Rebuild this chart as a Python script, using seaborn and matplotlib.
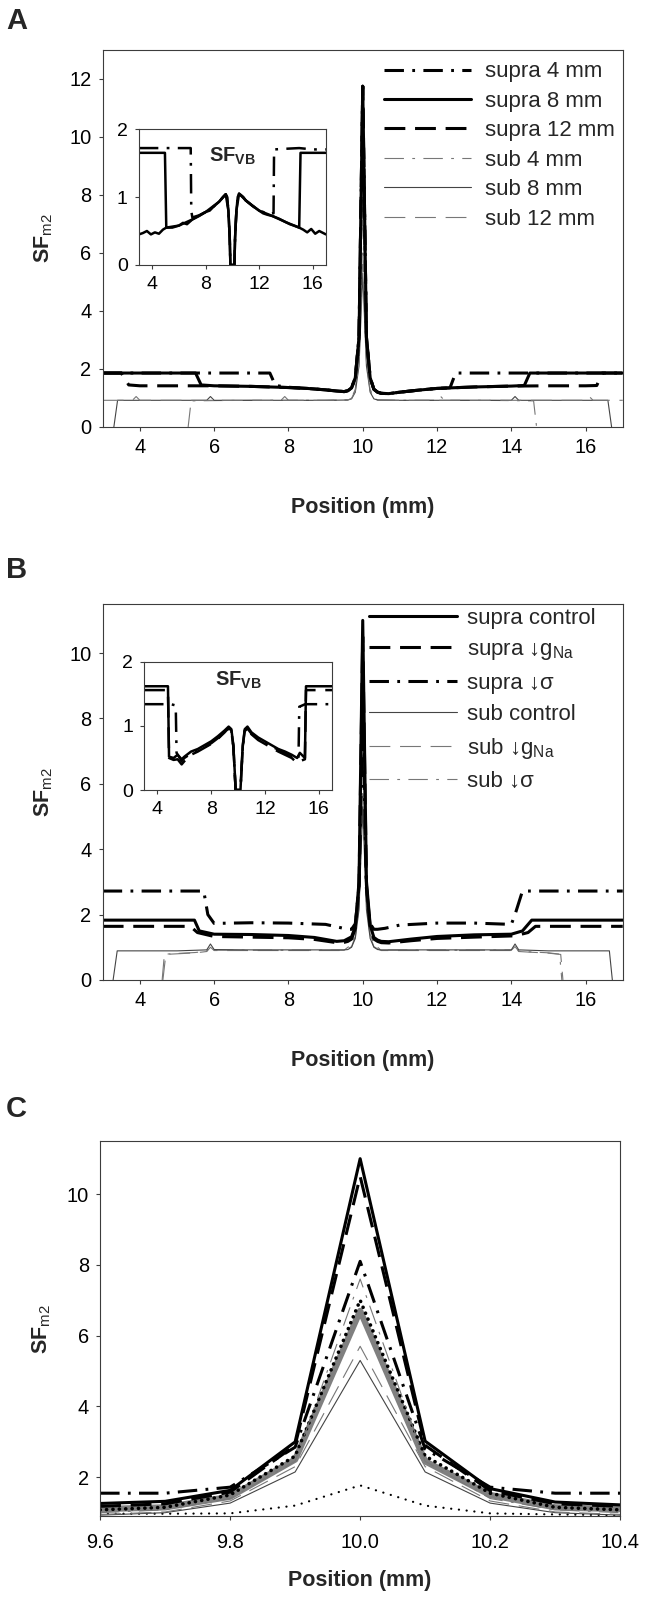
import matplotlib
matplotlib.use("Agg")
import matplotlib.pyplot as plt
import seaborn as sns

sns.set_theme(style="ticks")
plt.rcParams['font.family'] = ['Liberation Sans', 'DejaVu Sans']
plt.rcParams['mathtext.fontset'] = 'custom'
plt.rcParams['mathtext.rm'] = 'Liberation Sans'
plt.rcParams['mathtext.bf'] = 'Liberation Sans:bold'
plt.rcParams['mathtext.it'] = 'Liberation Sans:italic'
plt.rcParams['lines.scale_dashes'] = False

# ---------------- panel A : main (SFm2) ----------------
a_x_supra4 = [3.0, 4.0, 5.0, 6.0, 7.0, 7.5, 7.65, 8.0, 8.5, 9.0, 9.3, 9.5, 9.6, 9.7, 9.8, 9.9, 10.0, 10.1, 10.2,
              10.3, 10.4, 10.5, 10.7, 11.0, 11.5, 12.0, 12.35, 12.5, 13.0, 14.0, 15.0, 16.0, 17.0]
a_y_supra4 = [1.86, 1.86, 1.86, 1.86, 1.86, 1.86, 1.43, 1.37, 1.33, 1.28, 1.24, 1.22, 1.25, 1.35, 1.70, 3.10, 11.75,
              3.10, 1.70, 1.30, 1.20, 1.16, 1.15, 1.20, 1.27, 1.33, 1.35, 1.86, 1.86, 1.86, 1.86, 1.86, 1.86]
a_x_supra8 = [3.0, 4.0, 5.0, 5.5, 5.65, 6.0, 7.0, 8.0, 8.5, 9.0, 9.3, 9.5, 9.6, 9.7, 9.8, 9.9, 10.0, 10.1, 10.2,
              10.3, 10.4, 10.5, 10.7, 11.0, 11.5, 12.0, 13.0, 14.0, 14.35, 14.5, 15.0, 16.0, 17.0]
a_y_supra8 = [1.86, 1.86, 1.86, 1.86, 1.45, 1.42, 1.40, 1.36, 1.33, 1.28, 1.24, 1.22, 1.25, 1.35, 1.70, 3.10, 11.75,
              3.10, 1.70, 1.30, 1.20, 1.16, 1.15, 1.20, 1.27, 1.33, 1.38, 1.41, 1.43, 1.86, 1.86, 1.86, 1.86]
a_x_supra12 = [3.0, 3.5, 3.7, 4.0, 5.0, 6.0, 7.0, 8.0, 8.5, 9.0, 9.3, 9.5, 9.6, 9.7, 9.8, 9.9, 10.0, 10.1, 10.2,
               10.3, 10.4, 10.5, 10.7, 11.0, 11.5, 12.0, 13.0, 14.0, 15.0, 16.0, 16.3, 16.45, 17.0]
a_y_supra12 = [1.86, 1.86, 1.45, 1.42, 1.42, 1.42, 1.40, 1.36, 1.33, 1.28, 1.24, 1.22, 1.25, 1.35, 1.70, 3.10, 11.75,
               3.10, 1.70, 1.30, 1.20, 1.16, 1.15, 1.20, 1.27, 1.33, 1.38, 1.41, 1.42, 1.42, 1.43, 1.86, 1.86]
a_x_sub4 = [5.3, 5.38, 6.0, 7.0, 7.8, 7.9, 8.0, 9.0, 9.6, 9.7, 9.8, 9.9, 10.0, 10.1, 10.2, 10.3, 10.4, 11.0,
            12.0, 12.1, 12.2, 13.0, 14.0, 14.6, 14.68]
a_y_sub4 = [0.0, 0.90, 0.91, 0.92, 0.92, 1.05, 0.92, 0.92, 0.93, 1.00, 1.30, 2.60, 7.7, 2.60, 1.30, 1.00, 0.93, 0.92,
            0.92, 1.05, 0.92, 0.92, 0.91, 0.90, 0.0]
a_x_sub8 = [3.3, 3.4, 4.0, 5.0, 5.8, 5.9, 6.0, 7.0, 8.0, 9.0, 9.6, 9.7, 9.8, 9.9, 10.0, 10.1, 10.2, 10.3, 10.4,
            11.0, 12.0, 13.0, 14.0, 14.1, 14.2, 15.0, 16.0, 16.6, 16.7]
a_y_sub8 = [0.0, 0.92, 0.92, 0.92, 0.92, 1.05, 0.92, 0.92, 0.92, 0.92, 0.93, 0.97, 1.20, 2.10, 5.3, 2.10, 1.20, 0.97,
            0.93, 0.92, 0.92, 0.92, 0.92, 1.05, 0.92, 0.92, 0.92, 0.92, 0.0]
a_x_sub12 = [3.0, 3.8, 3.9, 4.0, 5.0, 6.0, 7.0, 8.0, 9.0, 9.6, 9.7, 9.8, 9.9, 10.0, 10.1, 10.2, 10.3, 10.4, 11.0,
             12.0, 13.0, 14.0, 15.0, 16.0, 16.1, 16.2, 17.0]
a_y_sub12 = [0.92, 0.92, 1.05, 0.92, 0.92, 0.92, 0.92, 0.92, 0.92, 0.93, 0.99, 1.25, 2.30, 6.0, 2.30, 1.25, 0.99,
             0.93, 0.92, 0.92, 0.92, 0.92, 0.92, 0.92, 1.05, 0.92, 0.92]

# ---------------- panel A : inset (SFVB) ----------------
ia_x_4 = [3.0, 4.0, 5.0, 6.0, 6.88, 6.92, 7.0, 7.5, 8.0, 8.3, 8.6, 9.0, 9.3, 9.5, 9.6, 9.7, 9.8, 9.85, 10.15, 10.2,
          10.3, 10.4, 10.5, 10.8, 11.0, 11.5, 12.0, 12.3, 12.6, 13.0, 13.08, 13.12, 14.0, 15.0, 16.0, 17.0]
ia_y_4 = [1.72, 1.72, 1.72, 1.72, 1.72, 0.80, 0.70, 0.73, 0.78, 0.81, 0.86, 0.93, 1.00, 1.04, 1.00, 0.80, 0.40, 0.0,
          0.0, 0.40, 0.80, 1.00, 1.05, 1.00, 0.95, 0.87, 0.80, 0.78, 0.74, 0.76, 0.76, 1.70, 1.71, 1.72, 1.70, 1.70]
ia_x_8 = [3.0, 4.0, 4.95, 5.05, 5.5, 6.0, 6.3, 6.6, 7.0, 7.5, 8.0, 8.3, 8.6, 9.0, 9.3, 9.5, 9.6, 9.7, 9.8, 9.85,
          10.15, 10.2, 10.3, 10.4, 10.5, 10.8, 11.0, 11.5, 12.0, 12.3, 12.6, 13.0, 13.5, 14.0, 14.3, 14.6, 15.0,
          15.1, 16.0, 17.0]
ia_y_8 = [1.65, 1.65, 1.65, 0.55, 0.55, 0.58, 0.62, 0.60, 0.67, 0.72, 0.78, 0.80, 0.86, 0.93, 1.00, 1.04, 1.00,
          0.80, 0.40, 0.0, 0.0, 0.40, 0.80, 1.00, 1.05, 1.00, 0.95, 0.87, 0.80, 0.76, 0.74, 0.72, 0.68, 0.63, 0.60,
          0.58, 0.55, 1.65, 1.65, 1.65]
ia_x_12 = [3.0, 3.3, 3.6, 3.9, 4.2, 4.5, 4.8, 5.05, 6.0, 7.0, 8.0, 9.0, 9.5, 9.7, 9.8, 9.85, 10.15, 10.2, 10.3,
           10.5, 11.0, 12.0, 13.0, 14.0, 15.0, 15.3, 15.6, 15.9, 16.2, 16.5, 16.8, 17.0]
ia_y_12 = [0.45, 0.47, 0.50, 0.45, 0.48, 0.46, 0.52, 0.55, 0.58, 0.67, 0.78, 0.93, 1.04, 0.80, 0.40, 0.0, 0.0,
           0.40, 0.80, 1.05, 0.95, 0.80, 0.72, 0.63, 0.55, 0.52, 0.48, 0.53, 0.46, 0.50, 0.47, 0.45]

# ---------------- panel B : main ----------------
b_x_ctrl = [3.0, 4.0, 5.0, 5.47, 5.6, 5.8, 6.0, 7.0, 8.0, 8.7, 9.3, 9.5, 9.6, 9.7, 9.8, 9.9, 10.0, 10.1, 10.2,
            10.3, 10.4, 10.5, 10.7, 11.3, 12.0, 13.0, 14.0, 14.3, 14.55, 15.0, 16.0, 17.0]
b_y_ctrl = [1.83, 1.83, 1.83, 1.83, 1.50, 1.45, 1.40, 1.39, 1.36, 1.30, 1.18, 1.20, 1.26, 1.32, 1.63, 3.00, 11.0,
            3.02, 1.68, 1.30, 1.22, 1.18, 1.17, 1.25, 1.33, 1.38, 1.40, 1.50, 1.83, 1.83, 1.83, 1.83]
b_x_gna = [3.0, 4.0, 5.0, 5.36, 5.55, 6.0, 7.0, 8.0, 8.7, 9.3, 9.5, 9.6, 9.7, 9.8, 9.9, 10.0, 10.1, 10.2, 10.3,
           10.4, 10.5, 10.7, 11.3, 12.0, 13.0, 14.1, 14.45, 14.65, 15.0, 16.0, 17.0]
b_y_gna = [1.64, 1.64, 1.64, 1.64, 1.45, 1.33, 1.31, 1.29, 1.24, 1.14, 1.15, 1.18, 1.25, 1.58, 2.90, 10.5, 2.90,
           1.62, 1.25, 1.18, 1.14, 1.13, 1.20, 1.27, 1.31, 1.35, 1.45, 1.64, 1.64, 1.64, 1.64]
b_x_sig = [3.0, 4.0, 5.0, 5.72, 5.83, 6.0, 7.0, 8.0, 9.0, 9.4, 9.6, 9.7, 9.8, 9.9, 10.0, 10.1, 10.2, 10.3, 10.4,
           10.6, 11.0, 12.0, 13.0, 14.0, 14.1, 14.3, 15.0, 16.0, 17.0]
b_y_sig = [2.72, 2.72, 2.72, 2.72, 2.00, 1.73, 1.75, 1.74, 1.70, 1.60, 1.55, 1.55, 1.72, 2.85, 8.1, 2.80, 1.72,
           1.55, 1.55, 1.58, 1.68, 1.74, 1.74, 1.70, 2.00, 2.72, 2.72, 2.72, 2.72]
b_x_sub_ctrl = [3.28, 3.39, 4.0, 5.0, 5.8, 5.9, 6.0, 7.0, 8.0, 9.0, 9.5, 9.6, 9.7, 9.8, 9.9, 10.0, 10.1, 10.2,
                10.3, 10.4, 10.5, 11.0, 12.0, 13.0, 14.0, 14.1, 14.2, 15.0, 16.0, 16.64, 16.72]
b_y_sub_ctrl = [0.0, 0.89, 0.89, 0.89, 0.92, 1.10, 0.93, 0.92, 0.92, 0.92, 0.92, 0.93, 1.00, 1.27, 2.15, 5.3, 2.15,
                1.27, 1.00, 0.93, 0.92, 0.92, 0.92, 0.92, 0.92, 1.10, 0.92, 0.89, 0.89, 0.89, 0.0]
b_x_sub_gna = [4.6, 4.66, 5.0, 5.5, 5.8, 5.9, 6.0, 7.0, 8.0, 9.0, 9.5, 9.6, 9.7, 9.8, 9.9, 10.0, 10.1, 10.2, 10.3,
               10.4, 10.5, 11.0, 12.0, 13.0, 14.0, 14.1, 14.2, 14.5, 15.0, 15.33, 15.39]
b_y_sub_gna = [0.0, 0.78, 0.80, 0.83, 0.87, 1.00, 0.90, 0.90, 0.90, 0.90, 0.90, 0.95, 1.02, 1.33, 2.30, 5.7, 2.30,
               1.33, 1.02, 0.95, 0.90, 0.90, 0.90, 0.90, 0.90, 1.00, 0.87, 0.85, 0.82, 0.78, 0.0]
b_x_sub_sig = [4.62, 4.7, 5.0, 5.5, 5.8, 5.9, 6.0, 7.0, 8.0, 9.0, 9.5, 9.6, 9.7, 9.8, 9.9, 10.0, 10.1, 10.2, 10.3,
               10.4, 10.5, 11.0, 12.0, 13.0, 14.0, 14.1, 14.2, 14.5, 15.0, 15.3, 15.36]
b_y_sub_sig = [0.0, 0.79, 0.81, 0.84, 0.88, 1.02, 0.91, 0.91, 0.91, 0.91, 0.91, 1.00, 1.08, 1.40, 2.45, 7.6, 2.45,
               1.40, 1.08, 1.00, 0.91, 0.91, 0.91, 0.91, 0.91, 1.02, 0.88, 0.86, 0.83, 0.79, 0.0]

# ---------------- panel B : inset ----------------
ib_x = [3.0, 4.0, 4.78, 4.86, 5.2, 5.5, 5.8, 6.0, 6.5, 7.0, 7.5, 8.0, 8.5, 9.0, 9.3, 9.5, 9.65, 9.75, 9.82, 10.18,
        10.25, 10.35, 10.5, 10.7, 11.0, 11.5, 12.0, 12.5, 13.0, 13.5, 14.0, 14.4, 14.6, 14.98, 15.06, 16.0, 17.0]
ib_y_ctrl = [1.62, 1.62, 1.62, 0.52, 0.50, 0.55, 0.48, 0.52, 0.60, 0.64, 0.70, 0.76, 0.84, 0.93, 0.99, 0.95, 0.70,
             0.30, 0.0, 0.0, 0.30, 0.70, 0.95, 0.99, 0.90, 0.82, 0.76, 0.70, 0.64, 0.60, 0.55, 0.50, 0.58, 0.50,
             1.62, 1.62, 1.62]
ib_y_gna = [1.56, 1.56, 1.56, 0.50, 0.47, 0.48, 0.40, 0.45, 0.55, 0.60, 0.66, 0.72, 0.80, 0.90, 0.97, 0.93, 0.68,
            0.28, 0.0, 0.0, 0.28, 0.68, 0.93, 0.97, 0.87, 0.78, 0.72, 0.66, 0.60, 0.55, 0.50, 0.42, 0.45, 0.48,
            1.56, 1.56, 1.56]
ib_x_sig = [3.0, 4.0, 5.0, 5.36, 5.42, 5.8, 6.0, 6.5, 7.0, 7.5, 8.0, 8.5, 9.0, 9.3, 9.5, 9.65, 9.75, 9.82, 10.18,
            10.25, 10.35, 10.5, 10.7, 11.0, 11.5, 12.0, 12.5, 13.0, 13.5, 14.0, 14.5, 14.56, 15.0, 16.0, 17.0]
ib_y_sig = [1.34, 1.34, 1.34, 1.32, 0.58, 0.45, 0.50, 0.57, 0.62, 0.67, 0.73, 0.81, 0.90, 0.96, 0.92, 0.68, 0.28,
            0.0, 0.0, 0.28, 0.68, 0.92, 0.96, 0.88, 0.80, 0.74, 0.68, 0.63, 0.58, 0.53, 0.48, 1.30, 1.34, 1.34, 1.34]

# ---------------- panel C : zoom on the peak ----------------
c_x = [9.6, 9.7, 9.8, 9.9, 10.0, 10.1, 10.2, 10.3, 10.4]
c_supra_ctrl = [1.26, 1.32, 1.63, 3.00, 11.0, 3.02, 1.68, 1.30, 1.22]
c_supra_gna = [1.18, 1.25, 1.58, 2.90, 10.5, 2.90, 1.62, 1.25, 1.18]
c_supra_sig = [1.55, 1.55, 1.72, 2.85, 8.1, 2.80, 1.72, 1.55, 1.55]
c_sub_ctrl = [0.93, 1.00, 1.27, 2.15, 5.3, 2.15, 1.27, 1.00, 0.93]
c_sub_gna = [0.95, 1.02, 1.33, 2.30, 5.7, 2.30, 1.33, 1.02, 0.95]
c_sub_sig = [1.00, 1.08, 1.40, 2.45, 7.6, 2.45, 1.40, 1.08, 1.00]
c_gray = [1.10, 1.15, 1.45, 2.50, 6.7, 2.45, 1.50, 1.15, 1.10]
c_dots = [1.08, 1.15, 1.50, 2.60, 7.0, 2.60, 1.55, 1.15, 1.08]
c_dots_thin = [0.97, 0.97, 0.98, 1.20, 1.77, 1.20, 0.98, 0.95, 0.93]

labels_a = ["supra 4 mm", "supra 8 mm", "supra 12 mm", "sub 4 mm", "sub 8 mm", "sub 12 mm"]
labels_b = ["supra control", r"supra ↓g$_{\mathrm{Na}}$", "supra ↓σ",
            "sub control", r"sub ↓g$_{\mathrm{Na}}$", "sub ↓σ"]

DASH = (0, (15, 7))
DASHDOT = (0, (14, 6, 2, 6))
STY = {
    "solid": dict(color="black", linewidth=2.2, linestyle="-"),
    "dash": dict(color="black", linewidth=2.2, linestyle=DASH),
    "dashdot": dict(color="black", linewidth=2.2, linestyle=DASHDOT),
    "t_solid": dict(color="#444444", linewidth=0.8, linestyle="-"),
    "t_dash": dict(color="#777777", linewidth=0.8, linestyle=DASH),
    "t_dashdot": dict(color="#777777", linewidth=0.8, linestyle=DASHDOT),
    "gray": dict(color="#808080", linewidth=4.5, linestyle="-"),
    "dots": dict(color="black", linewidth=2.6, linestyle=(0, (0.1, 4.5)), dash_capstyle="round"),
    "dots_thin": dict(color="black", linewidth=1.6, linestyle=(0, (0.1, 5.5)), dash_capstyle="round"),
}
FS = 14.4
EDGE = "#3c3c3c"


def draw(ax, x, y, kind, label=None, lw=None):
    kw = dict(STY[kind])
    if lw is not None:
        kw["linewidth"] = lw
    sns.lineplot(x=x, y=y, ax=ax, estimator=None, sort=False, legend=False, label=label, **kw)


def style_axes(ax, fs=FS):
    ax.set_facecolor("white")
    for s in ax.spines.values():
        s.set_visible(True)
        s.set_linewidth(0.8)
        s.set_color(EDGE)
    ax.tick_params(axis="both", direction="out", length=3, width=0.8, color=EDGE,
                   labelsize=fs, labelcolor="black", top=False, right=False, pad=5)


def main_labels(ax, xpad=29):
    ax.set_xlabel("Position (mm)", fontsize=15.5, fontweight="bold", labelpad=xpad)
    ax.set_ylabel(r"SF$_{\mathrm{m2}}$", fontsize=15.5, fontweight="bold", labelpad=10)


def make_legend(ax, order, anchor, pad, spacing):
    h, l = ax.get_legend_handles_labels()
    ax.legend([h[l.index(k)] for k in order], order, loc="upper left", bbox_to_anchor=anchor,
              frameon=False, fontsize=16, handlelength=3.95, handletextpad=pad,
              labelspacing=spacing, borderpad=0, borderaxespad=0)


def inset(fig, rect, ty):
    ax = fig.add_axes(rect)
    style_axes(ax, 14)
    ax.set_xlim(3, 17)
    ax.set_ylim(0, 2)
    ax.set_xticks([4, 8, 12, 16])
    ax.set_yticks([0, 1, 2])
    ax.text(0.5, ty, r"SF$_{\mathbf{VB}}$", transform=ax.transAxes, ha="center", va="center",
            fontsize=14.5, fontweight="bold")
    return ax


fig = plt.figure(figsize=(6.46, 16.07), dpi=100)

# ---- A ----
axA = fig.add_axes([0.159, 0.7343, 0.805, 0.2346])
style_axes(axA)
draw(axA, a_x_sub4, a_y_sub4, "t_dashdot", "sub 4 mm")
draw(axA, a_x_sub8, a_y_sub8, "t_solid", "sub 8 mm")
draw(axA, a_x_sub12, a_y_sub12, "t_dash", "sub 12 mm")
draw(axA, a_x_supra12, a_y_supra12, "dash", "supra 12 mm")
draw(axA, a_x_supra8, a_y_supra8, "solid", "supra 8 mm")
draw(axA, a_x_supra4, a_y_supra4, "dashdot", "supra 4 mm")
axA.set_xlim(3, 17)
axA.set_ylim(0, 13)
axA.set_xticks(range(4, 17, 2))
axA.set_yticks(range(0, 13, 2))
main_labels(axA)
make_legend(axA, labels_a, (0.54, 0.97), 0.63, 0.38)

iA = inset(fig, [0.215, 0.8351, 0.2895, 0.0846], 0.80)
draw(iA, ia_x_12, ia_y_12, "solid", lw=1.8)
draw(iA, ia_x_8, ia_y_8, "solid", lw=1.8)
draw(iA, ia_x_4, ia_y_4, "dashdot", lw=1.8)
iA.set_xlabel("")
iA.set_ylabel("")

# ---- B ----
axB = fig.add_axes([0.159, 0.3902, 0.805, 0.2339])
style_axes(axB)
draw(axB, b_x_sub_sig, b_y_sub_sig, "t_dashdot", labels_b[5])
draw(axB, b_x_sub_gna, b_y_sub_gna, "t_dash", labels_b[4])
draw(axB, b_x_sub_ctrl, b_y_sub_ctrl, "t_solid", labels_b[3])
draw(axB, b_x_sig, b_y_sig, "dashdot", labels_b[2])
draw(axB, b_x_gna, b_y_gna, "dash", labels_b[1])
draw(axB, b_x_ctrl, b_y_ctrl, "solid", labels_b[0])
axB.set_xlim(3, 17)
axB.set_ylim(0, 11.5)
axB.set_xticks(range(4, 17, 2))
axB.set_yticks(range(0, 11, 2))
main_labels(axB)
make_legend(axB, labels_b, (0.513, 0.99), 0.45, 0.47)

iB = inset(fig, [0.223, 0.5084, 0.291, 0.0797], 0.86)
draw(iB, ib_x_sig, ib_y_sig, "dashdot", lw=1.8)
draw(iB, ib_x, ib_y_gna, "dash", lw=1.8)
draw(iB, ib_x, ib_y_ctrl, "solid", lw=1.8)
iB.set_xlabel("")
iB.set_ylabel("")

# ---- C ----
axC = fig.add_axes([0.155, 0.0565, 0.805, 0.2335])
style_axes(axC)
draw(axC, c_x, c_dots_thin, "dots_thin")
draw(axC, c_x, c_sub_ctrl, "t_solid")
draw(axC, c_x, c_sub_gna, "t_dash")
draw(axC, c_x, c_gray, "gray")
draw(axC, c_x, c_dots, "dots")
draw(axC, c_x, c_sub_sig, "t_dashdot")
draw(axC, c_x, c_supra_sig, "dashdot")
draw(axC, c_x, c_supra_gna, "dash")
draw(axC, c_x, c_supra_ctrl, "solid")
axC.set_xlim(9.6, 10.4)
axC.set_ylim(0.9, 11.5)
axC.set_xticks([9.6, 9.8, 10.0, 10.2, 10.4])
axC.set_xticklabels(["9.6", "9.8", "10.0", "10.2", "10.4"])
axC.set_yticks([2, 4, 6, 8, 10])
axC.tick_params(axis="x", pad=9)
main_labels(axC, xpad=13)

for lab, y in [("A", 0.987), ("B", 0.6453), ("C", 0.3099)]:
    fig.text(0.009, y, lab, fontsize=21, fontweight="bold", ha="left", va="center")

fig.savefig("out.png", dpi=100)
